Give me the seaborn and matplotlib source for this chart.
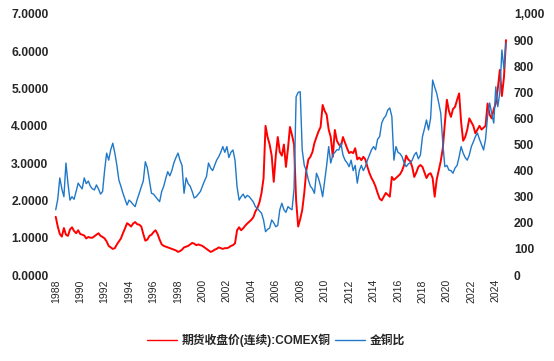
import pandas as pd
import seaborn as sns
import matplotlib.pyplot as plt
import matplotlib.dates as mdates
from matplotlib.ticker import FuncFormatter, MultipleLocator
from matplotlib.lines import Line2D

# readings from the chart, every two months, 1988-01 .. 2024-11 (one row per year)
copper = [
    1.56, 1.30, 1.10, 1.03, 1.26, 1.08,
    1.05, 1.22, 1.28, 1.18, 1.12, 1.20,
    1.10, 1.08, 1.06, 0.98, 1.02, 1.00,
    1.00, 1.04, 1.08, 1.12, 1.05, 1.02,
    0.98, 0.90, 0.78, 0.74, 0.70, 0.72,
    0.82, 0.90, 0.98, 1.12, 1.25, 1.39,
    1.35, 1.30, 1.38, 1.42, 1.36, 1.35,
    1.30, 1.10, 0.92, 0.95, 1.05, 1.08,
    1.15, 1.20, 1.10, 0.95, 0.82, 0.78,
    0.76, 0.74, 0.72, 0.70, 0.68, 0.66,
    0.62, 0.64, 0.68, 0.74, 0.76, 0.78,
    0.82, 0.86, 0.84, 0.80, 0.82, 0.80,
    0.78, 0.74, 0.70, 0.66, 0.62, 0.64,
    0.68, 0.70, 0.74, 0.72, 0.70, 0.72,
    0.72, 0.74, 0.78, 0.80, 0.85, 1.20,
    1.28, 1.20, 1.25, 1.32, 1.38, 1.43,
    1.48, 1.55, 1.70, 1.80, 1.95, 2.20,
    2.60, 4.00, 3.70, 3.50, 3.20, 2.50,
    3.20, 3.70, 3.30, 3.20, 3.50, 2.90,
    3.40, 3.97, 3.75, 3.50, 2.00, 1.30,
    1.50, 1.74, 2.20, 2.80, 3.10, 3.17,
    3.30, 3.54, 3.70, 3.85, 3.97, 4.56,
    4.40, 4.30, 3.90, 3.70, 3.17, 3.89,
    3.60, 3.50, 3.44, 3.70, 3.55, 3.40,
    3.27, 3.30, 3.27, 3.40, 3.10, 3.15,
    3.08, 3.17, 3.10, 2.90, 2.73, 2.60,
    2.50, 2.37, 2.20, 2.05, 2.00, 2.10,
    2.20, 2.15, 2.10, 2.63, 2.55, 2.60,
    2.65, 2.70, 2.80, 2.95, 3.20, 3.10,
    3.05, 2.90, 2.63, 2.75, 2.90, 2.95,
    2.90, 2.75, 2.60, 2.70, 2.73, 2.60,
    2.10, 2.55, 2.80, 3.05, 3.40, 4.07,
    4.70, 4.40, 4.24, 4.45, 4.51, 4.70,
    4.87, 4.10, 3.60, 3.70, 3.90, 4.20,
    4.10, 4.00, 3.80, 3.90, 4.00, 3.90,
    3.95, 4.00, 4.60, 4.30, 4.20, 4.45,
    4.60, 5.00, 5.50, 4.80, 5.30, 6.30,
]
ratio = [
    250, 290, 372, 330, 300, 429,
    350, 287, 300, 290, 320, 352,
    340, 330, 372, 350, 360, 340,
    330, 326, 345, 330, 310, 320,
    402, 467, 440, 480, 505, 467,
    420, 364, 340, 313, 290, 268,
    287, 280, 270, 262, 290, 313,
    338, 360, 434, 410, 360, 313,
    310, 300, 290, 281, 320, 340,
    370, 396, 380, 400, 430, 450,
    467, 440, 420, 313, 372, 350,
    340, 320, 295, 300, 310, 320,
    340, 360, 377, 429, 410, 400,
    420, 440, 453, 470, 492, 470,
    492, 450, 470, 479, 440, 338,
    287, 300, 310, 295, 305, 300,
    290, 280, 262, 255, 245, 237,
    210, 166, 175, 180, 211, 200,
    185, 190, 250, 275, 250, 240,
    262, 255, 250, 330, 683, 700,
    702, 479, 420, 400, 364, 340,
    330, 313, 390, 370, 340, 300,
    360, 420, 492, 429, 460, 470,
    480, 479, 505, 460, 440, 430,
    415, 440, 400, 420, 352, 400,
    420, 400, 415, 440, 460, 480,
    492, 480, 520, 530, 582, 600,
    610, 632, 640, 607, 440, 492,
    470, 465, 453, 430, 415, 425,
    430, 440, 460, 470, 445, 460,
    530, 560, 594, 556, 600, 747,
    720, 697, 660, 620, 505, 415,
    420, 402, 400, 390, 410, 420,
    453, 492, 467, 450, 440, 460,
    492, 510, 530, 544, 520, 500,
    479, 520, 610, 659, 620, 582,
    721, 645, 700, 862, 790, 889,
]
dates = pd.date_range("1988-01-01", periods=len(copper), freq="2MS")
df = pd.DataFrame({"date": dates, "copper": copper, "ratio": ratio})

name_copper = "期货收盘价(连续):COMEX铜"
name_ratio = "金铜比"
red = "#ff0000"
blue = "#1f78c8"

sns.set_style("white")
plt.rcParams["font.family"] = ["Liberation Sans", "Noto Sans CJK SC"]

fig = plt.figure(figsize=(5.54, 3.61), dpi=100)
ax = fig.add_axes([54 / 554, 1 - 275 / 361, 453 / 554, 261 / 361])
ax2 = ax.twinx()

sns.lineplot(data=df, x="date", y="copper", ax=ax, color=red, linewidth=1.4)
sns.lineplot(data=df, x="date", y="ratio", ax=ax2, color=blue, linewidth=1.0)

ax.set_ylim(0, 7)
ax2.set_ylim(0, 1000)
ax.yaxis.set_major_locator(MultipleLocator(1))
ax2.yaxis.set_major_locator(MultipleLocator(100))
ax.yaxis.set_major_formatter(FuncFormatter(lambda v, p: f"{v:.4f}"))
ax2.yaxis.set_major_formatter(FuncFormatter(lambda v, p: f"{v:,.0f}"))
ax.set_xlim(pd.Timestamp("1987-11-10"), pd.Timestamp("2024-12-01"))
ax.xaxis.set_major_locator(mdates.YearLocator(2))
ax.xaxis.set_major_formatter(mdates.DateFormatter("%Y"))

for a in (ax, ax2):
    a.set_xlabel("")
    a.set_ylabel("")
    for s in a.spines.values():
        s.set_visible(False)
    a.tick_params(length=0)
for lab in ax.get_yticklabels() + ax2.get_yticklabels():
    lab.set_fontweight("bold")
    lab.set_fontsize(8.7)
ax.tick_params(axis="y", pad=4)
ax2.tick_params(axis="y", pad=5)
ax.tick_params(axis="x", labelrotation=90, labelsize=7.5, pad=3)

handles = [Line2D([], [], color=red, linewidth=1.0),
           Line2D([], [], color=blue, linewidth=1.0)]
fig.legend(handles, [name_copper, name_ratio], loc="center",
           bbox_to_anchor=(276 / 554, 1 - 340 / 361), ncol=2, frameon=False,
           handlelength=2.6, handletextpad=0.4, columnspacing=0.3,
           prop={"weight": "bold", "size": 8.5})

fig.savefig("out.png", dpi=100)
